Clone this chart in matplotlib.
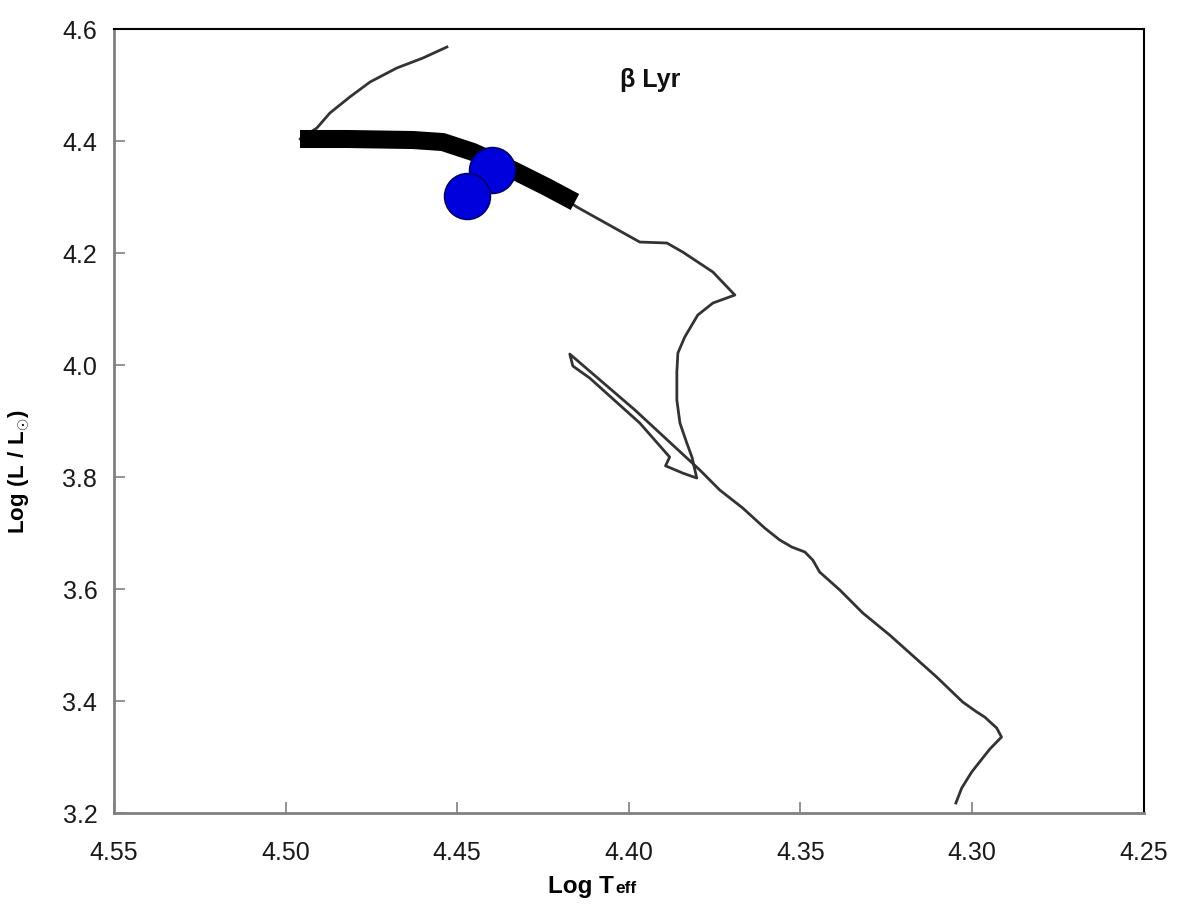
import matplotlib
matplotlib.use("Agg")
import matplotlib.pyplot as plt

plt.rcParams['font.family'] = ['Liberation Sans', 'DejaVu Sans']
plt.rcParams['mathtext.fontset'] = 'custom'
plt.rcParams['mathtext.rm'] = 'Liberation Sans'
plt.rcParams['mathtext.bf'] = 'Liberation Sans:bold'

# evolutionary track (thin line)
track_teff = [4.3047, 4.3030, 4.3001, 4.2978, 4.2948, 4.2914, 4.2928, 4.2963,
              4.2986, 4.3027, 4.3103, 4.3240, 4.3318, 4.3385, 4.3444, 4.3464,
              4.3487, 4.3525, 4.3560, 4.3604, 4.3668, 4.3735, 4.3793, 4.3982,
              4.4172, 4.4163, 4.4114, 4.3968, 4.3881, 4.3893, 4.3843, 4.3802,
              4.3816, 4.3831, 4.3851, 4.3860, 4.3860, 4.3857, 4.3837, 4.3799,
              4.3755, 4.3691, 4.3755, 4.3843, 4.3889, 4.3968, 4.4151, 4.4239,
              4.4338, 4.4454, 4.4542, 4.4629, 4.4821, 4.4958, 4.4909, 4.4871,
              4.4813, 4.4754, 4.4676, 4.4600, 4.4530]
track_logl = [3.2179, 3.2446, 3.2732, 3.2911, 3.3143, 3.3357, 3.3518, 3.3714,
              3.3804, 3.3982, 3.4429, 3.5179, 3.5571, 3.5982, 3.6304, 3.6518,
              3.6661, 3.6750, 3.6875, 3.7089, 3.7446, 3.7768, 3.8125, 3.9196,
              4.0196, 3.9982, 3.9768, 3.8964, 3.8357, 3.8200, 3.8071, 3.7982,
              3.8357, 3.8607, 3.8964, 3.9375, 3.9875, 4.0214, 4.0500, 4.0893,
              4.1107, 4.1250, 4.1661, 4.2018, 4.2179, 4.2196, 4.2821, 4.3179,
              4.3482, 4.3804, 4.3982, 4.4018, 4.4036, 4.4036, 4.4232, 4.4500,
              4.4786, 4.5054, 4.5304, 4.5482, 4.5679]

# mass transfer phase (thick band)
thick_teff = [4.4958, 4.4821, 4.4629, 4.4542, 4.4454, 4.4338, 4.4239, 4.4157]
thick_logl = [4.4036, 4.4036, 4.4018, 4.3982, 4.3804, 4.3482, 4.3179, 4.2911]

# observed components
star_teff = [4.4399, 4.4472]
star_logl = [4.3482, 4.3018]

x_ticks = [4.55, 4.50, 4.45, 4.40, 4.35, 4.30, 4.25]
x_labels = ['4.55', '4.50', '4.45', '4.40', '4.35', '4.30', '4.25']
y_ticks = [3.2, 3.4, 3.6, 3.8, 4.0, 4.2, 4.4, 4.6]
y_labels = ['3.2', '3.4', '3.6', '3.8', '4.0', '4.2', '4.4', '4.6']

fig = plt.figure(figsize=(12, 9.07), dpi=100)
ax = fig.add_axes([0.095, 0.1036, 0.858, 0.8644])

ax.plot(track_teff, track_logl, color='#333333', lw=2.0, zorder=2)
ax.plot(thick_teff, thick_logl, color='black', lw=13, solid_capstyle='butt',
        solid_joinstyle='round', zorder=3)
ax.plot(star_teff, star_logl, 'o', ms=33, color='#0000dd',
        markeredgecolor='#000066', markeredgewidth=1.2, zorder=4)

ax.set_xlim(4.55, 4.25)
ax.set_ylim(3.2, 4.6)
ax.set_xticks(x_ticks)
ax.set_xticklabels(x_labels)
ax.set_yticks(y_ticks)
ax.set_yticklabels(y_labels)

for side in ['left', 'bottom']:
    ax.spines[side].set_color('#808080')
    ax.spines[side].set_linewidth(2)
for side in ['top', 'right']:
    ax.spines[side].set_color('black')
    ax.spines[side].set_linewidth(1.5)

ax.tick_params(axis='both', direction='in', length=8, width=1.2,
               color='#808080', labelsize=18, labelcolor='#1a1a1a')
ax.tick_params(axis='x', pad=20)
ax.tick_params(axis='y', pad=12)

# x label: "Log T" with a smaller "eff" on the same baseline, centred near x=592 px
W, H = 1200, 907
base_y = 1 - 893 / H
t1 = fig.text(0, base_y, 'Log T', fontsize=17.5, fontweight='bold',
              ha='left', va='baseline')
t2 = fig.text(0, base_y, 'eff', fontsize=12.5, fontweight='bold',
              ha='left', va='baseline')
fig.canvas.draw()
r = fig.canvas.get_renderer()
w1 = t1.get_window_extent(r).width
w2 = t2.get_window_extent(r).width
left = 592 - (w1 + w2 + 1) / 2
t1.set_x(left / W)
t2.set_x((left + w1 + 1) / W)

fig.text(19 / W, 1 - 472 / H,
         r'$\mathbf{Log\ (L\ /\ L}_{\odot}\mathbf{)}$', fontsize=16,
         rotation=90, ha='center', va='center')

ax.text(4.3939, 4.509, 'β Lyr', ha='center', va='center', fontsize=18,
        fontweight='bold', color='#111111')

fig.savefig('out.png', dpi=100)
